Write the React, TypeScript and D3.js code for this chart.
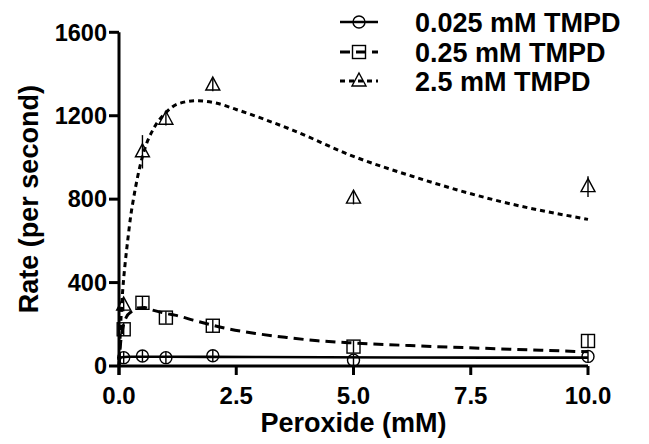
import React from "react";
import * as d3 from "d3";

const W = 649;
const H = 444;

// Data points
const peroxide = [0.1, 0.5, 1, 2, 5, 10];
const rateLow = [40, 48, 40, 49, 28, 46];
const errLow = [28, 28, 28, 28, 28, 28];
const rateMid = [176, 303, 232, 193, 93, 120];
const errMid = [30, 30, 30, 30, 30, 30];
const rateHigh = [292, 1027, 1183, 1347, 805, 860];
const errHigh = [30, 80, 30, 30, 30, 50];

// Fitted curves
const fitLowX = [0, 0.01, 0.03, 0.06, 0.2, 1, 3, 6, 10];
const fitLowY = [0, 25, 38, 42, 44, 44, 43, 41, 40];
const fitMidX = [0, 0.03, 0.08, 0.16, 0.26, 0.39, 0.55, 0.66, 1.0, 1.19, 1.58, 2.25, 2.91, 3.57, 4.24, 5.03, 6.2, 8.15, 10];
const fitMidY = [0, 100, 180, 236, 260, 278, 280, 272, 252, 244, 220, 182, 156, 137, 121, 110, 98, 82, 68];
const fitHighX = [0, 0.03, 0.06, 0.1, 0.13, 0.19, 0.25, 0.3, 0.4, 0.52, 0.76, 1.0, 1.25, 1.65, 2.05, 2.5, 3.7, 5.0, 6.25, 8.15, 10];
const fitHighY = [0, 170, 300, 420, 490, 610, 720, 790, 910, 1020, 1147, 1215, 1256, 1272, 1262, 1230, 1131, 1005, 910, 788, 703];

const xTicks = [0, 2.5, 5, 7.5, 10];
const yTicks = [0, 400, 800, 1200, 1600];
const legendLabels = ["0.025 mM TMPD", "0.25 mM TMPD", "2.5 mM TMPD"];

const FONT = "'Liberation Sans', Arial, Helvetica, sans-serif";

export default function App() {
  const x = d3.scaleLinear().domain([0, 10]).range([119, 588]);
  const y = d3.scaleLinear().domain([0, 1600]).range([366, 32.3]);

  const line = d3
    .line<[number, number]>()
    .x((d) => x(d[0]))
    .y((d) => y(d[1]))
    .curve(d3.curveMonotoneX);

  const lowPath = line(fitLowX.map((v, i) => [v, fitLowY[i]]) as [number, number][]) || "";
  const midPath = line(fitMidX.map((v, i) => [v, fitMidY[i]]) as [number, number][]) || "";
  const highPath = line(fitHighX.map((v, i) => [v, fitHighY[i]]) as [number, number][]) || "";

  const sw = 1.4;
  const circle = (cx: number, cy: number, k: string) => (
    <circle key={k} cx={cx} cy={cy} r={6} fill="none" stroke="#000" strokeWidth={sw} />
  );
  const square = (cx: number, cy: number, k: string) => (
    <rect key={k} x={cx - 6.5} y={cy - 6.5} width={13} height={13} fill="none" stroke="#000" strokeWidth={sw} />
  );
  const triangle = (cx: number, cy: number, k: string) => (
    <path
      key={k}
      d={`M${cx},${cy - 8}L${cx + 7},${cy + 5}L${cx - 7},${cy + 5}Z`}
      fill="none"
      stroke="#000"
      strokeWidth={sw}
    />
  );

  const errBar = (xv: number, v: number, e: number, k: string) => (
    <line key={k} x1={x(xv)} x2={x(xv)} y1={y(v - e)} y2={y(v + e)} stroke="#000" strokeWidth={sw} />
  );

  const legendY = [22, 52, 81];
  const lx1 = 340;
  const lx2 = 378;
  const lcx = 359;

  return (
    <div style={{ position: "absolute", left: 0, top: 0 }}>
      <svg width={W} height={H} style={{ display: "block", background: "#fff" }}>
        {/* fit curves */}
        <path d={lowPath} fill="none" stroke="#000" strokeWidth={2.6} />
        <path d={midPath} fill="none" stroke="#000" strokeWidth={3} strokeDasharray="10 6" />
        <path d={highPath} fill="none" stroke="#000" strokeWidth={3} strokeDasharray="5 4" />

        {/* error bars */}
        {peroxide.map((p, i) => errBar(p, rateLow[i], errLow[i], `el${i}`))}
        {peroxide.map((p, i) => errBar(p, rateMid[i], errMid[i], `em${i}`))}
        {peroxide.map((p, i) => errBar(p, rateHigh[i], errHigh[i], `eh${i}`))}

        {/* markers */}
        {peroxide.map((p, i) => circle(x(p), y(rateLow[i]), `cl${i}`))}
        {peroxide.map((p, i) => square(x(p), y(rateMid[i]), `sm${i}`))}
        {peroxide.map((p, i) => triangle(x(p), y(rateHigh[i]), `th${i}`))}

        {/* axes */}
        <line x1={x(0)} x2={x(0)} y1={y(1600)} y2={y(0) + 9} stroke="#000" strokeWidth={3} />
        <line x1={x(0)} x2={x(10)} y1={y(0)} y2={y(0)} stroke="#000" strokeWidth={3} />
        {xTicks.map((t) => (
          <g key={`xt${t}`}>
            <line x1={x(t)} x2={x(t)} y1={y(0)} y2={y(0) + 9} stroke="#000" strokeWidth={3} />
            <text
              x={x(t)}
              y={404}
              textAnchor="middle"
              fontFamily={FONT}
              fontWeight="bold"
              fontSize={24}
              fill="#000"
            >
              {d3.format(".1f")(t)}
            </text>
          </g>
        ))}
        {yTicks.map((t) => (
          <g key={`yt${t}`}>
            <line x1={x(0) - 10} x2={x(0)} y1={y(t)} y2={y(t)} stroke="#000" strokeWidth={3} />
            <text
              x={107}
              y={y(t) + 8.3}
              textAnchor="end"
              fontFamily={FONT}
              fontWeight="bold"
              fontSize={23.5}
              fill="#000"
            >
              {t}
            </text>
          </g>
        ))}

        {/* axis titles */}
        <text x={(x(0) + x(10)) / 2} y={432} textAnchor="middle" fontFamily={FONT} fontWeight="bold" fontSize={27} fill="#000">
          Peroxide (mM)
        </text>
        <text
          transform={`translate(38,${(y(0) + y(1600)) / 2}) rotate(-90)`}
          textAnchor="middle"
          fontFamily={FONT}
          fontWeight="bold"
          fontSize={27}
          fill="#000"
        >
          Rate (per second)
        </text>

        {/* legend */}
        <g>
          <line x1={lx1} x2={lx2} y1={legendY[0]} y2={legendY[0]} stroke="#000" strokeWidth={2.6} />
          {circle(lcx, legendY[0], "lg0")}
          <line x1={lx1} x2={lx2} y1={legendY[1]} y2={legendY[1]} stroke="#000" strokeWidth={3} strokeDasharray="10 6" />
          {square(lcx, legendY[1], "lg1")}
          <line x1={lx1} x2={lx2} y1={legendY[2]} y2={legendY[2]} stroke="#000" strokeWidth={3} strokeDasharray="5 4" />
          {triangle(lcx, legendY[2], "lg2")}
          {legendLabels.map((l, i) => (
            <text
              key={l}
              x={415}
              y={legendY[i] + 9.5}
              fontFamily={FONT}
              fontWeight="bold"
              fontSize={27}
              fill="#000"
            >
              {l}
            </text>
          ))}
        </g>
      </svg>
    </div>
  );
}
